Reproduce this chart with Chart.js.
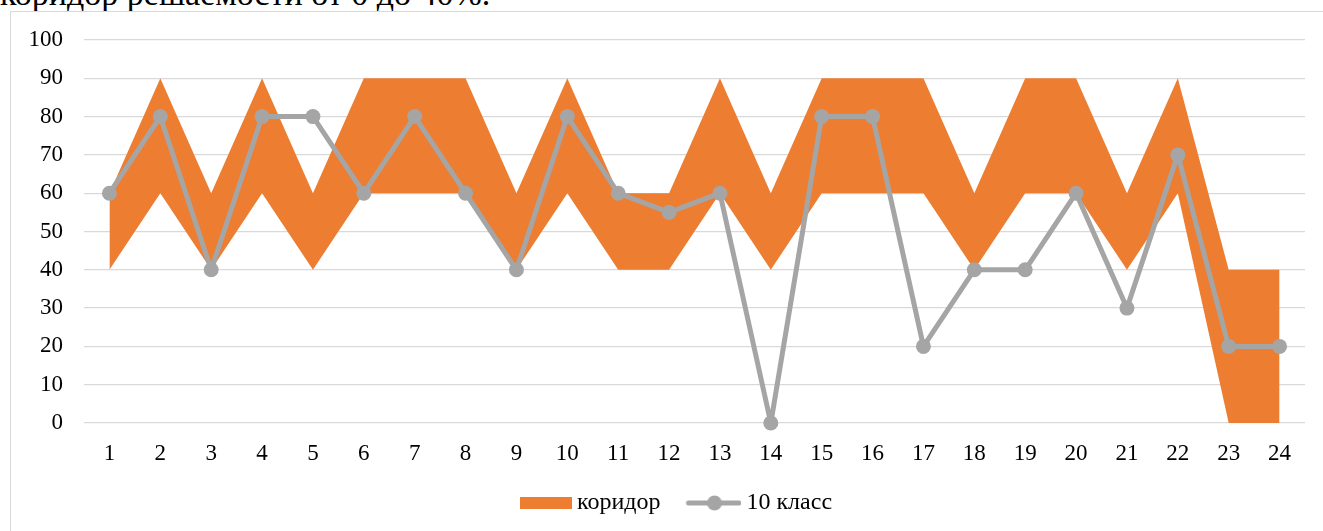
<!DOCTYPE html>
<html lang="ru">
<head>
<meta charset="utf-8">
<script src="https://cdn.jsdelivr.net/npm/chart.js@4/dist/chart.umd.min.js"></script>
<style>
  html, body { margin: 0; padding: 0; background: #fff; }
  #wrap { position: relative; width: 1323px; height: 531px; overflow: hidden; }
  #caption {
    position: absolute; left: 0; top: -23px;
    font: 34px "Liberation Serif", "Times New Roman", serif;
    line-height: 34px; color: #000; white-space: nowrap;
  }
  #frame {
    position: absolute; left: 10px; top: 11px; width: 1340px; height: 600px;
    border: 1px solid #D9D9D9; box-sizing: border-box;
  }
  #chart { position: absolute; left: 0; top: 0; }
</style>
</head>
<body>
<div id="wrap">
  <div id="caption">коридор решаемости от 0 до 40%.</div>
  <div id="frame"></div>
  <canvas id="chart" width="1323" height="531"></canvas>
</div>
<script>
// Task numbers along the x axis
const categories = ['1','2','3','4','5','6','7','8','9','10','11','12','13','14','15','16','17','18','19','20','21','22','23','24'];
// Lower and upper bounds of the expected solve-rate corridor, %
const corridorLow  = [40,60,40,60,40,60,60,60,40,60,40,40,60,40,60,60,60,40,60,60,40,60,0,0];
const corridorHigh = [60,90,60,90,60,90,90,90,60,90,60,60,90,60,90,90,90,60,90,90,60,90,40,40];
// Solve rate of the 10th grade, %
const grade10 = [60,80,40,80,80,60,80,60,40,80,60,55,60,0,80,80,20,40,40,60,30,70,20,20];
// Value axis ticks
const yTicks = [0,10,20,30,40,50,60,70,80,90,100];

const ORANGE = '#ED7D31';
const GREY = '#A5A5A5';
const FONT = '"Liberation Serif", "Times New Roman", serif';

// Legend swatches: artwork sits at the right edge so it ends just before the label
const SW_W = 78, SW_H = 16;
function swatchRect() {
  const c = document.createElement('canvas');
  c.width = SW_W; c.height = SW_H;
  const g = c.getContext('2d');
  g.fillStyle = ORANGE;
  g.fillRect(SW_W - 52, 2, 52, 12);
  return c;
}
function swatchLine() {
  const c = document.createElement('canvas');
  c.width = SW_W; c.height = SW_H;
  const g = c.getContext('2d');
  g.strokeStyle = GREY; g.lineWidth = 5; g.lineCap = 'round';
  g.beginPath(); g.moveTo(SW_W - 53, 8); g.lineTo(SW_W - 2.5, 8); g.stroke();
  g.fillStyle = GREY;
  g.beginPath(); g.arc(SW_W - 27, 8, 7.5, 0, Math.PI * 2); g.fill();
  return c;
}
const rectIcon = swatchRect();
const lineIcon = swatchLine();

new Chart(document.getElementById('chart'), {
  type: 'line',
  data: {
    labels: categories,
    datasets: [
      {
        label: '10 класс',
        data: grade10,
        borderColor: GREY,
        backgroundColor: GREY,
        borderWidth: 5,
        borderJoinStyle: 'round',
        borderCapStyle: 'round',
        pointRadius: 7.5,
        pointBorderWidth: 0,
        pointBackgroundColor: GREY,
        tension: 0,
        fill: false,
        clip: 12,
        order: 0
      },
      {
        label: 'нижняя граница',
        data: corridorLow,
        borderWidth: 0,
        pointRadius: 0,
        tension: 0,
        fill: false,
        order: 2
      },
      {
        label: 'коридор',
        data: corridorHigh,
        borderWidth: 0,
        borderColor: ORANGE,
        backgroundColor: ORANGE,
        pointRadius: 0,
        tension: 0,
        fill: { target: 1 },
        order: 1
      }
    ]
  },
  options: {
    responsive: false,
    animation: false,
    events: [],
    layout: { padding: { left: 28, right: 18, top: 40, bottom: 6 } },
    scales: {
      x: {
        offset: true,
        grid: { display: false, drawTicks: false },
        border: { display: false },
        ticks: { color: '#000', font: { family: FONT, size: 23 }, padding: 17, maxRotation: 0, autoSkip: false },
        afterFit: s => { s.height = 58; }
      },
      y: {
        min: 0, max: 100,
        afterBuildTicks: s => { s.ticks = yTicks.map(v => ({ value: v })); },
        grid: { color: '#D9D9D9', lineWidth: 1.3, drawTicks: false },
        border: { display: false },
        ticks: { color: '#000', font: { family: FONT, size: 23 }, padding: 21 },
        afterFit: s => { s.width = 56; }
      }
    },
    plugins: {
      tooltip: { enabled: false },
      legend: {
        position: 'bottom',
        labels: {
          usePointStyle: true,
          pointStyleWidth: 64,
          boxHeight: 12,
          padding: 10,
          color: '#000',
          font: { family: FONT, size: 24 },
          generateLabels: () => [
            { text: 'коридор', pointStyle: rectIcon, fillStyle: ORANGE, strokeStyle: ORANGE, lineWidth: 0, hidden: false, datasetIndex: 2 },
            { text: '10 класс', pointStyle: lineIcon, fillStyle: GREY, strokeStyle: GREY, lineWidth: 0, hidden: false, datasetIndex: 0 }
          ]
        }
      }
    }
  }
});
</script>
</body>
</html>
